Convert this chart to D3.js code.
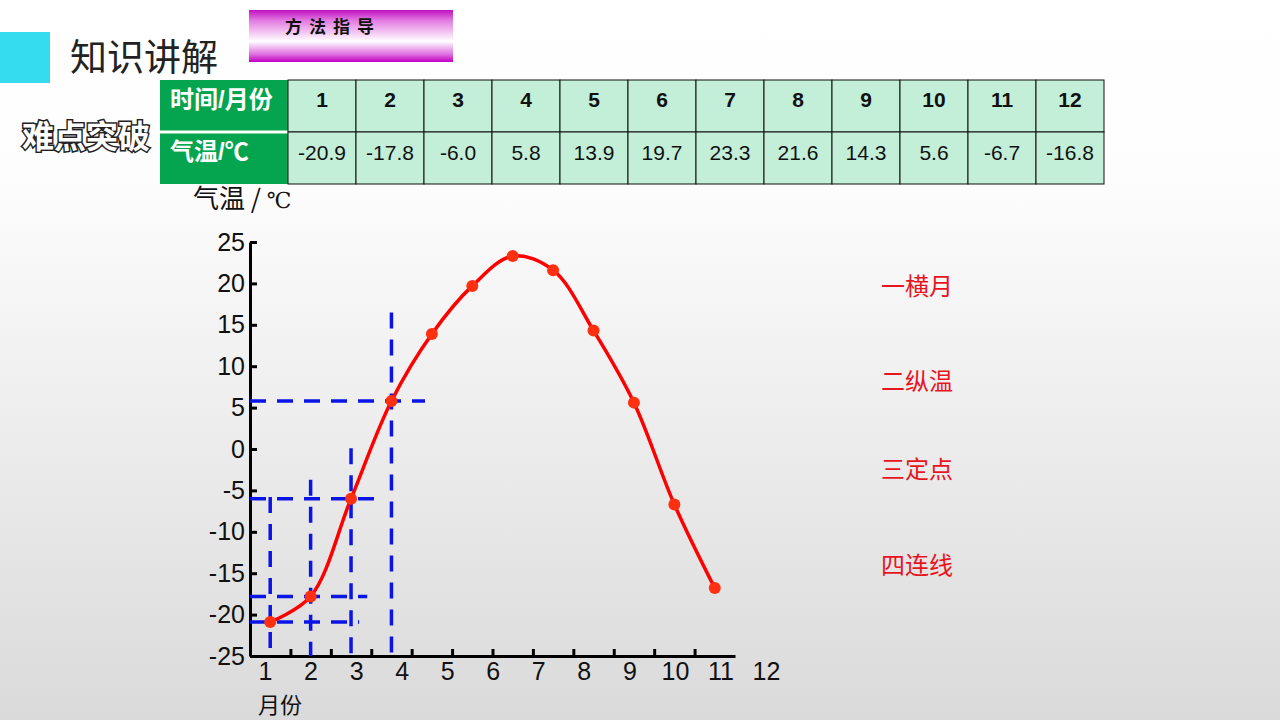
<!DOCTYPE html>
<html>
<head>
<meta charset="utf-8">
<script src="https://cdn.jsdelivr.net/npm/d3@7"></script>
<style>
  body { margin: 0; }
  svg { display: block; }
</style>
</head>
<body>
<svg id="sketch"></svg>
<script>
// monthly temperatures from the table
var months = [1, 2, 3, 4, 5, 6, 7, 8, 9, 10, 11, 12];
var temps = [-20.9, -17.8, -6.0, 5.8, 13.9, 19.7, 23.3, 21.6, 14.3, 5.6, -6.7, -16.8];
var tempLabels = ['-20.9', '-17.8', '-6.0', '5.8', '13.9', '19.7', '23.3', '21.6', '14.3', '5.6', '-6.7', '-16.8'];
var yTicks = [-25, -20, -15, -10, -5, 0, 5, 10, 15, 20, 25];
var xTicks = [1, 2, 3, 4, 5, 6, 7, 8, 9, 10, 11];

// dashed reading guides for the first four months
var guideMonths = [1, 2, 3, 4];
var guideTop = [-5.8, -3.7, 0.1, 16.5];    // where the vertical guide stops (deg C)
var guideRight = [2.7, 2.9, 3.1, 4.33];    // where the horizontal guide stops (axis units)

var steps = ['一横月', '二纵温', '三定点', '四连线'];

var FONT = '"Liberation Sans", Arial, "Noto Sans CJK SC", sans-serif';
var CJK = '"Noto Sans CJK SC", sans-serif';

var svg = d3.select('#sketch').attr('width', 1280).attr('height', 720);
var defs = svg.append('defs');

var bg = defs.append('linearGradient').attr('id', 'bg').attr('x1', 0).attr('y1', 0).attr('x2', 0).attr('y2', 1);
bg.append('stop').attr('offset', 0).attr('stop-color', '#ffffff');
bg.append('stop').attr('offset', 0.25).attr('stop-color', '#fdfdfd');
bg.append('stop').attr('offset', 1).attr('stop-color', '#dadada');

var band = defs.append('linearGradient').attr('id', 'band').attr('x1', 0).attr('y1', 0).attr('x2', 0).attr('y2', 1);
band.append('stop').attr('offset', 0).attr('stop-color', '#c010c0');
band.append('stop').attr('offset', 0.2).attr('stop-color', '#e27ae2');
band.append('stop').attr('offset', 0.6).attr('stop-color', '#ffffff');
band.append('stop').attr('offset', 0.85).attr('stop-color', '#e070e0');
band.append('stop').attr('offset', 1).attr('stop-color', '#c000c0');

svg.append('rect').attr('width', 1280).attr('height', 720).attr('fill', 'url(#bg)');

// header decorations
svg.append('rect').attr('x', 0).attr('y', 32).attr('width', 50).attr('height', 51).attr('fill', '#35dcef');
svg.append('text')
    .attr('x', 70).attr('y', 71)
    .text('知识讲解')
    .style('font-size', '37px')
    .style('font-family', CJK)
    .style('fill', '#222');

svg.append('rect').attr('x', 249).attr('y', 10).attr('width', 204).attr('height', 52).attr('fill', 'url(#band)');
svg.append('text')
    .attr('x', 285).attr('y', 33)
    .text('方法指导')
    .style('font-size', '17px')
    .style('font-weight', 'bold')
    .style('letter-spacing', '7px')
    .style('font-family', CJK)
    .style('fill', '#111');

svg.append('text')
    .attr('x', 22).attr('y', 148)
    .text('难点突破')
    .style('font-size', '32px')
    .style('font-weight', 'bold')
    .style('font-family', CJK)
    .style('fill', '#fff')
    .style('stroke', '#222')
    .style('stroke-width', 3)
    .style('paint-order', 'stroke');

// data table
var table = svg.append('g');
var col = d3.scaleBand().domain(months).range([288, 1104]);
var rowTop = 80, rowH = 52;

table.append('rect').attr('x', 160).attr('y', rowTop).attr('width', 128).attr('height', rowH * 2).attr('fill', '#05a550');
table.append('line')
    .attr('x1', 160).attr('x2', 288).attr('y1', rowTop + rowH).attr('y2', rowTop + rowH)
    .attr('stroke', '#fff').attr('stroke-width', 3);
table.append('text')
    .attr('x', 170).attr('y', rowTop + 28)
    .text('时间/月份')
    .style('font-size', '24px').style('font-weight', 'bold')
    .style('font-family', FONT).style('fill', '#fff');
table.append('text')
    .attr('x', 170).attr('y', rowTop + rowH + 28)
    .text('气温/℃')
    .style('font-size', '24px').style('font-weight', 'bold')
    .style('font-family', FONT).style('fill', '#fff');

table.selectAll('rect.cell')
    .data(months.concat(months).map(function(m, i) { return {m: m, row: i < 12 ? 0 : 1}; }))
    .enter().append('rect')
    .attr('class', 'cell')
    .attr('x', function(d) { return col(d.m); })
    .attr('y', function(d) { return rowTop + d.row * rowH; })
    .attr('width', col.bandwidth())
    .attr('height', rowH)
    .attr('fill', '#c3eed8')
    .attr('stroke', '#111')
    .attr('stroke-width', 1);

table.selectAll('text.month')
    .data(months)
    .enter().append('text')
    .attr('class', 'month')
    .attr('x', function(d) { return col(d) + col.bandwidth() / 2; })
    .attr('y', rowTop + 27)
    .attr('text-anchor', 'middle')
    .text(function(d) { return d; })
    .style('font-size', '21px').style('font-weight', 'bold')
    .style('font-family', FONT).style('fill', '#111');

table.selectAll('text.temp')
    .data(tempLabels)
    .enter().append('text')
    .attr('class', 'temp')
    .attr('x', function(d, i) { return col(months[i]) + col.bandwidth() / 2; })
    .attr('y', rowTop + rowH + 28)
    .attr('text-anchor', 'middle')
    .text(function(d) { return d; })
    .style('font-size', '21px')
    .style('font-family', FONT).style('fill', '#111');

// chart
var x = d3.scaleLinear().domain([0, 12]).range([250, 735]);
var y = d3.scaleLinear().domain([-25, 25]).range([656, 242]);
var xLab = d3.scaleLinear().domain([1, 12]).range([265, 766]);

var chart = svg.append('g');

var yAxis = chart.append('g')
    .attr('transform', 'translate(250,0)')
    .call(d3.axisLeft(y).tickValues(yTicks).tickSize(-7).tickSizeOuter(0).tickPadding(5)
        .tickFormat(function(d) { return String(d); }));
yAxis.select('.domain').attr('stroke', '#000').attr('stroke-width', 3);
yAxis.selectAll('.tick line').attr('stroke', '#000').attr('stroke-width', 3);
yAxis.selectAll('.tick text')
    .style('font-size', '25px').style('font-family', FONT).style('fill', '#111');

var xAxis = chart.append('g')
    .attr('transform', 'translate(0,656)')
    .call(d3.axisBottom(x).tickValues(xTicks).tickSize(-7).tickSizeOuter(0).tickFormat(''));
xAxis.select('.domain').attr('stroke', '#000').attr('stroke-width', 3);
xAxis.selectAll('.tick line').attr('stroke', '#000').attr('stroke-width', 3);

var xLabels = chart.append('g')
    .attr('transform', 'translate(0,662)')
    .call(d3.axisBottom(xLab).tickValues(months).tickSize(0).tickPadding(0));
xLabels.select('.domain').remove();
xLabels.selectAll('.tick text')
    .style('font-size', '25px').style('font-family', FONT).style('fill', '#111');

chart.append('text')
    .attr('x', 193).attr('y', 208)
    .text('气温 / ')
    .style('font-size', '26px').style('font-family', CJK).style('fill', '#111')
    .append('tspan')
    .text('℃')
    .style('font-family', '"DejaVu Serif", serif')
    .style('font-size', '22px');

chart.append('text')
    .attr('x', 258).attr('y', 713)
    .text('月份')
    .style('font-size', '22px').style('font-family', CJK).style('fill', '#111');

// dashed guides
var guides = chart.append('g')
    .attr('stroke', '#0a14e6')
    .attr('stroke-width', 3.5)
    .attr('stroke-dasharray', '16,11')
    .attr('fill', 'none');

guideMonths.forEach(function(m, i) {
    var px = x(m - 0.5), py = y(temps[m - 1]);
    guides.append('line')
        .attr('x1', x(0)).attr('y1', py)
        .attr('x2', x(guideRight[i])).attr('y2', py);
    guides.append('line')
        .attr('x1', px).attr('y1', y(guideTop[i]))
        .attr('x2', px).attr('y2', y(-25));
});

// temperature curve
var line = d3.line()
    .x(function(d, i) { return x(months[i] - 0.5); })
    .y(function(d) { return y(d); })
    .curve(d3.curveCatmullRom.alpha(0.5));

chart.append('path')
    .datum(temps)
    .attr('d', line)
    .attr('fill', 'none')
    .attr('stroke', '#ff0000')
    .attr('stroke-width', 3.5);

chart.selectAll('circle.pt')
    .data(temps)
    .enter().append('circle')
    .attr('class', 'pt')
    .attr('cx', function(d, i) { return x(months[i] - 0.5); })
    .attr('cy', function(d) { return y(d); })
    .attr('r', 6)
    .attr('fill', '#ff3010');

// drawing steps
svg.selectAll('text.step')
    .data(steps)
    .enter().append('text')
    .attr('class', 'step')
    .attr('x', 881)
    .attr('y', function(d, i) { return [295, 390, 478, 574][i]; })
    .text(function(d) { return d; })
    .style('font-size', '24px')
    .style('font-family', CJK)
    .style('fill', '#e8141e');
</script>
</body>
</html>
